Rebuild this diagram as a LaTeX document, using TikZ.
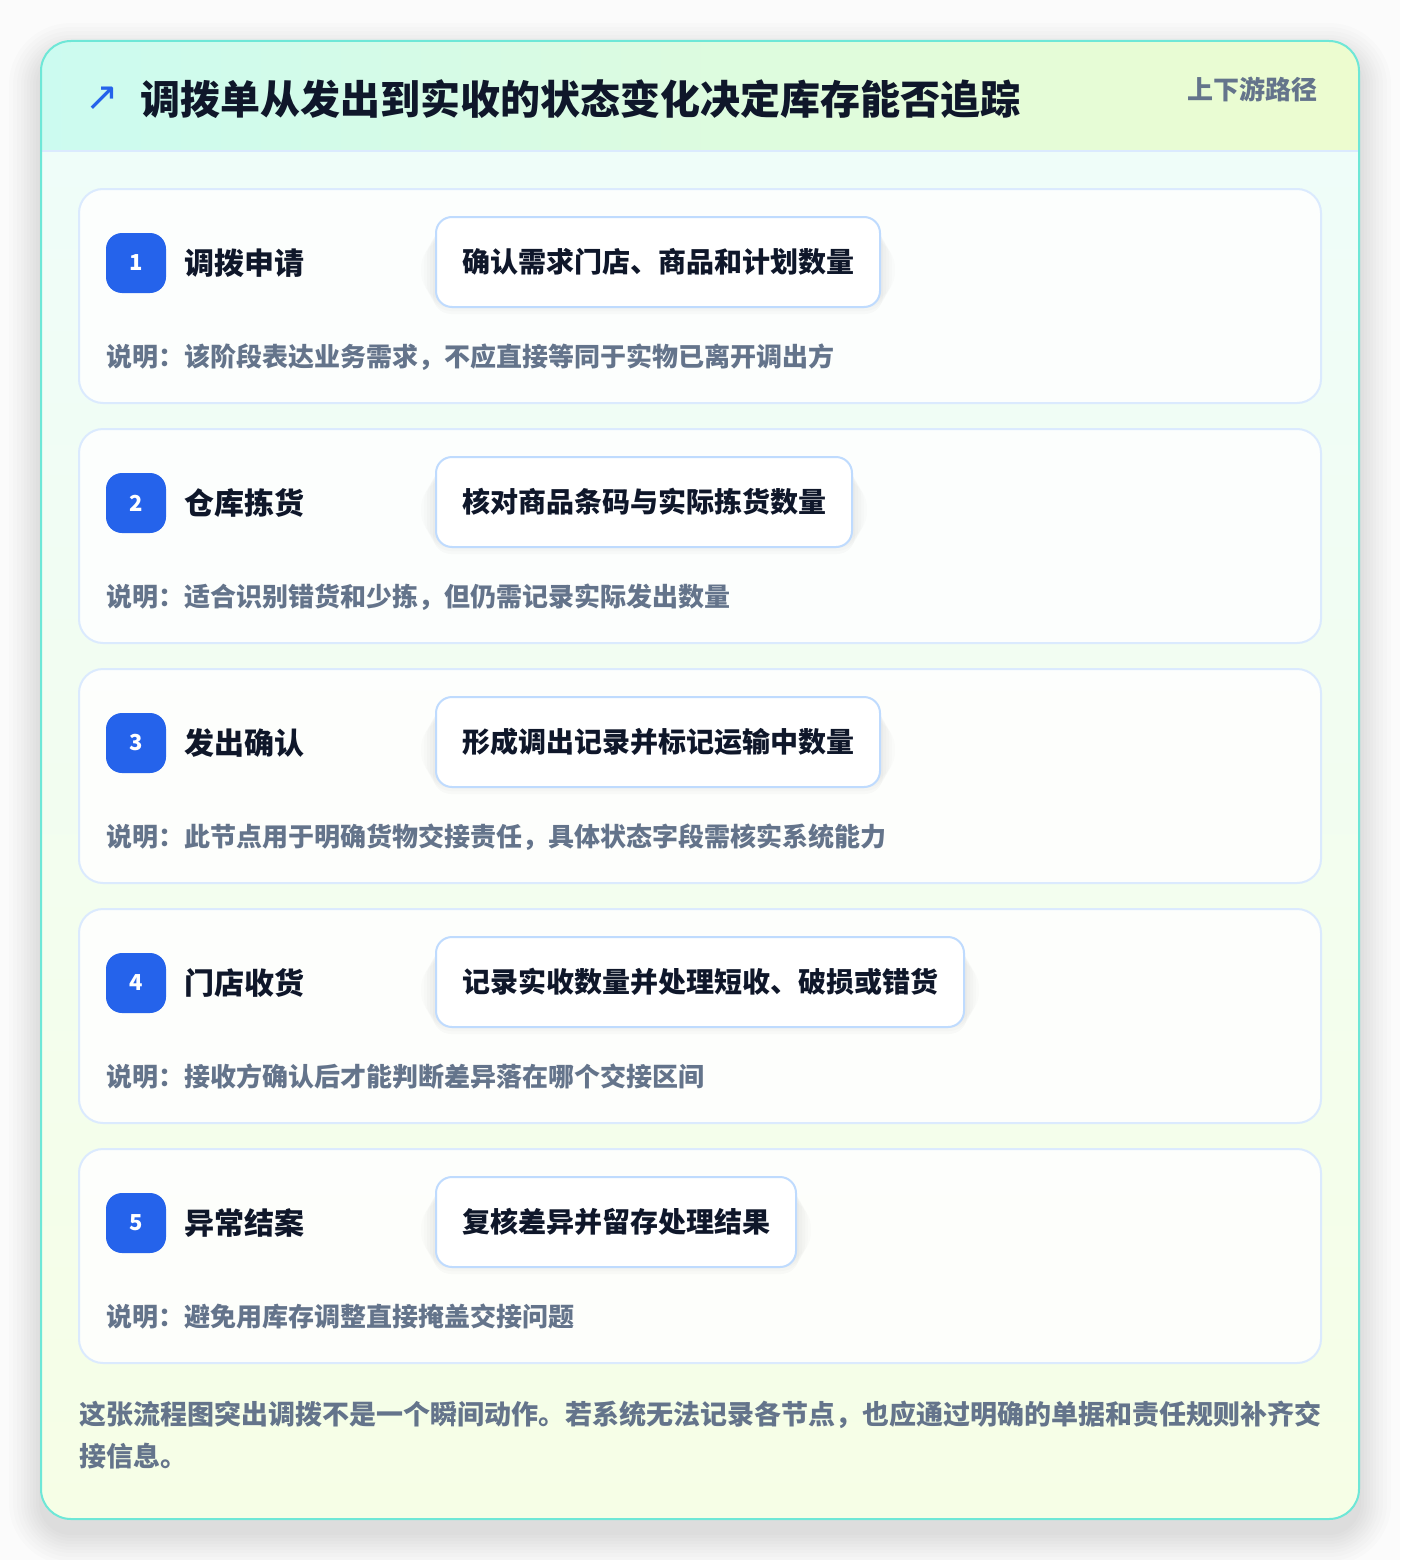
\documentclass[tikz,border=0pt]{standalone}
\usepackage{fontspec}
\setmainfont{Noto Sans CJK SC}
\newfontfamily\dejavu{DejaVu Sans}
\definecolor{badgeblue}{HTML}{2563EB}
\definecolor{ink}{HTML}{0F172A}
\definecolor{muted}{HTML}{64748B}
\definecolor{cardline}{HTML}{DBEAFE}
\definecolor{pillline}{HTML}{BFDBFE}
\definecolor{outerline}{HTML}{6EE7D7}
\definecolor{hdrL}{HTML}{CCFBF0}
\definecolor{hdrR}{HTML}{EDFCCF}
\definecolor{bodyT}{HTML}{EFFDF9}
\definecolor{bodyB}{HTML}{F6FEE6}
\definecolor{pagebg}{HTML}{FBFBFB}
\pgfdeclarelayer{bglayer}
\pgfdeclarelayer{shlayer}
\pgfsetlayers{bglayer,shlayer,main}
\tikzset{
  cardbox/.style={draw=cardline, line width=2pt, fill=white, fill opacity=0.85, draw opacity=1, text opacity=1,
    rounded corners=24pt, minimum width=1242pt, minimum height=214pt, inner sep=0pt},
  badgebox/.style={fill=badgeblue, text=white, rounded corners=16pt, minimum width=60pt, minimum height=60pt,
    inner sep=0pt, font=\fontsize{22}{26}\selectfont\bfseries},
  steptitle/.style={anchor=west, inner sep=0pt, text=ink, font=\fontsize{30}{36}\selectfont\bfseries},
  pillbox/.style={anchor=west, draw=pillline, line width=2pt, fill=white, rounded corners=16pt,
    minimum height=90pt, inner xsep=26pt, inner ysep=0pt, text=ink, font=\fontsize{28}{34}\selectfont\bfseries},
  desctext/.style={anchor=west, inner sep=0pt, text=muted, font=\fontsize{26}{32}\selectfont\bfseries},
  foottext/.style={anchor=west, inner sep=0pt, text=muted, font=\fontsize{27}{32}\selectfont\bfseries},
}
\begin{document}
\begin{tikzpicture}[x=1pt,y=-1pt]
\useasboundingbox (0,0) rectangle (1400,1560);
\begin{pgfonlayer}{bglayer}
\fill[pagebg] (0,0) rectangle (1400,1560);
% outer shadow
\foreach \e in {2,5,8,11,14,17,20,24,28,32}{
  \fill[black, opacity=0.011, rounded corners=30pt+\e pt] (41-\e,41-\e+14) rectangle (1359+\e,1519+\e+14);
}
% outer card body
\begin{scope}
  \clip[rounded corners=30pt] (41,41) rectangle (1359,1519);
  \shade[top color=bodyT, bottom color=bodyB] (41,151) rectangle (1359,1519);
  \shade[left color=hdrL, right color=hdrR] (41,41) rectangle (1359,151);
  \draw[cardline, line width=2pt] (41,151) -- (1359,151);
\end{scope}
\draw[outerline, line width=2pt, rounded corners=30pt] (41,41) rectangle (1359,1519);
\end{pgfonlayer}
% header
\node[anchor=center, inner sep=0pt, text=badgeblue, font=\dejavu\fontsize{40}{44}\selectfont] (arrow) at (102,99) {↗};
\node[anchor=west, inner sep=0pt, text=ink, font=\fontsize{40}{48}\selectfont\bfseries] (title) at (140,99) {调拨单从发出到实收的状态变化决定库存能否追踪};
\node[anchor=east, inner sep=0pt, text=muted, font=\fontsize{26}{30}\selectfont\bfseries] (tag) at (1318,89) {上下游路径};
% cards
\foreach \i/\ttl/\pill/\desc in {
  1/调拨申请/确认需求门店、商品和计划数量/说明：该阶段表达业务需求，不应直接等同于实物已离开调出方,
  2/仓库拣货/核对商品条码与实际拣货数量/说明：适合识别错货和少拣，但仍需记录实际发出数量,
  3/发出确认/形成调出记录并标记运输中数量/说明：此节点用于明确货物交接责任，具体状态字段需核实系统能力,
  4/门店收货/记录实收数量并处理短收、破损或错货/说明：接收方确认后才能判断差异落在哪个交接区间,
  5/异常结案/复核差异并留存处理结果/说明：避免用库存调整直接掩盖交接问题}{
  \pgfmathsetmacro{\top}{189+240*(\i-1)}
  \begin{pgfonlayer}{bglayer}
  \node[cardbox] (card\i) at (700,\top+107) {};
  \end{pgfonlayer}
  \node[badgebox] (badge\i) at (136,\top+74) {\i};
  \node[steptitle] (title\i) at (184,\top+74) {\ttl};
  \node[pillbox] (pill\i) at (435,\top+73) {\pill};
  \begin{pgfonlayer}{shlayer}
  \foreach \s/\o in {14/0.010,11/0.012,8/0.014,5/0.016,2/0.018}{
    \fill[black, opacity=\o, rounded corners=16pt+\s pt]
      ([xshift=-\s pt, yshift=-\s pt-8pt]pill\i.north west) rectangle ([xshift=\s pt, yshift=\s pt-8pt]pill\i.south east);
  }
  \end{pgfonlayer}
  \node[desctext] (desc\i) at (106,\top+168) {\desc};
}
% footer
\node[foottext] (foot1) at (79,1415) {这张流程图突出调拨不是一个瞬间动作。若系统无法记录各节点，也应通过明确的单据和责任规则补齐交};
\node[foottext] (foot2) at (79,1456) {接信息。};
\end{tikzpicture}
\end{document}
